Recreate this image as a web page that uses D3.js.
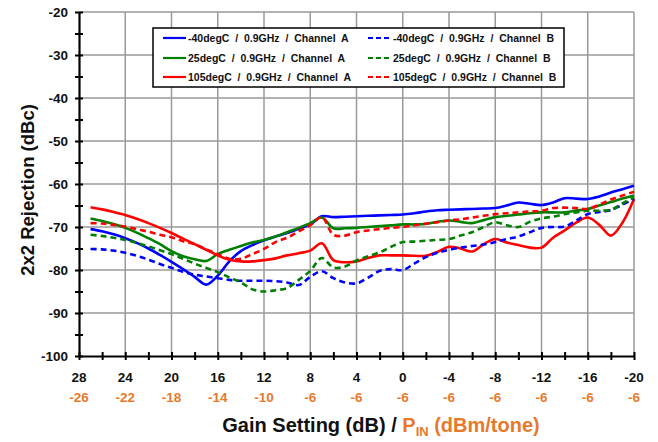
<!DOCTYPE html>
<html>
<head>
<meta charset="utf-8">
<script src="https://cdn.jsdelivr.net/npm/d3@7"></script>
<style>
  html, body { margin: 0; padding: 0; background: #fff; }
  svg { display: block; font-family: Arial, "Liberation Sans", sans-serif; }
  .pre { white-space: pre; }
</style>
</head>
<body>
<svg id="chart" width="658" height="442"></svg>
<script>
// Gain settings (dB), one sample per dB step
const gain = d3.range(27, -21, -1);

// Tick labels along the x axis
const gainTicks = [28, 24, 20, 16, 12, 8, 4, 0, -4, -8, -12, -16, -20];
const pinLabels = ["-26", "-22", "-18", "-14", "-10", "-6", "-6", "-6", "-6", "-6", "-6", "-6", "-6"];
const yTicks = [-20, -30, -40, -50, -60, -70, -80, -90, -100];

// 2x2 rejection (dBc) per series
const m40A = [-70.5,-71.0,-71.7,-72.6,-73.7,-75.0,-76.5,-78.1,-79.8,-81.6,-83.4,-81.3,-78.0,-75.6,-74.2,-73.1,-72.2,-71.4,-70.4,-69.4,-67.5,-67.7,-67.6,-67.5,-67.4,-67.3,-67.2,-67.1,-66.8,-66.4,-66.1,-66.0,-65.9,-65.8,-65.7,-65.6,-65.0,-64.3,-64.6,-64.9,-64.3,-63.3,-63.4,-63.5,-62.9,-62.0,-61.2,-60.4];
const p25A = [-68.0,-68.6,-69.3,-70.2,-71.3,-72.6,-74.0,-75.6,-76.8,-77.5,-77.9,-76.3,-75.3,-74.4,-73.6,-73.0,-72.2,-71.2,-70.2,-69.1,-67.8,-70.3,-70.3,-70.2,-70.0,-69.8,-69.6,-69.4,-69.4,-69.3,-68.8,-68.5,-68.8,-69.1,-68.4,-67.7,-67.4,-67.1,-66.8,-66.6,-66.6,-66.6,-66.2,-65.8,-65.0,-64.2,-63.4,-62.7];
const p105A = [-65.4,-65.9,-66.5,-67.2,-68.1,-69.1,-70.2,-71.4,-72.7,-74.0,-75.3,-76.6,-77.6,-78.0,-78.0,-77.7,-77.3,-76.6,-76.1,-75.5,-73.8,-77.7,-78.2,-78.0,-77.2,-76.6,-76.6,-76.6,-76.7,-76.7,-75.8,-74.6,-75.0,-75.7,-74.0,-72.8,-73.6,-74.2,-74.8,-74.8,-72.5,-70.8,-69.0,-67.8,-69.5,-72.0,-69.0,-63.5];
const m40B = [-75.1,-75.2,-75.5,-76.0,-76.7,-77.6,-78.6,-79.5,-80.4,-81.1,-81.5,-81.9,-82.3,-82.5,-82.5,-82.5,-82.6,-82.9,-83.5,-81.6,-80.3,-81.9,-82.9,-83.1,-81.8,-80.2,-79.8,-80.0,-78.5,-77.0,-76.0,-75.3,-74.8,-74.4,-74.1,-73.5,-72.8,-72.2,-71.2,-70.2,-70.0,-69.9,-68.5,-67.0,-66.5,-66.1,-64.8,-63.5];
const p25B = [-71.8,-72.1,-72.5,-73.0,-73.7,-74.5,-75.4,-76.3,-77.4,-78.5,-79.5,-80.5,-81.7,-82.9,-84.5,-85.0,-84.7,-84.2,-82.3,-80.2,-77.2,-79.4,-79.2,-77.8,-76.8,-75.9,-74.6,-73.5,-73.4,-73.2,-73.0,-72.8,-72.0,-71.2,-70.0,-68.9,-69.6,-70.0,-68.8,-68.0,-67.6,-67.0,-66.6,-66.2,-66.2,-66.0,-64.5,-63.1];
const p105B = [-69.1,-69.2,-69.5,-69.9,-70.5,-71.1,-71.8,-72.4,-73.3,-74.0,-75.2,-76.3,-77.4,-77.4,-76.3,-75.1,-73.5,-72.5,-71.0,-69.6,-67.7,-71.8,-72.0,-71.2,-70.8,-70.5,-70.2,-70.0,-69.6,-69.2,-68.9,-68.5,-68.2,-67.8,-67.4,-67.0,-66.8,-66.6,-66.4,-66.2,-65.6,-65.5,-65.6,-65.8,-64.8,-63.6,-62.7,-61.8];

const seriesNames = [
  "-40degC  /  0.9GHz  /  Channel  A",
  "25degC  /  0.9GHz  /  Channel  A",
  "105degC  /  0.9GHz  /  Channel  A",
  "-40degC  /  0.9GHz  /  Channel  B",
  "25degC  /  0.9GHz  /  Channel  B",
  "105degC  /  0.9GHz  /  Channel  B"
];
const seriesValues = [m40A, p25A, p105A, m40B, p25B, p105B];
const seriesColors = ["#0000ff", "#008000", "#ff0000", "#0000ff", "#008000", "#ff0000"];
const seriesDashed = [false, false, false, true, true, true];

const orange = "#e8792a";
const svg = d3.select("#chart");

const x = d3.scaleLinear().domain([28, -20]).range([79, 634]);
const y = d3.scaleLinear().domain([-100, -20]).range([356, 12]);

// Grid
const grid = svg.append("g");
grid.selectAll("line.v").data(gainTicks.slice(1)).join("line")
  .attr("x1", d => x(d)).attr("x2", d => x(d))
  .attr("y1", y(-20)).attr("y2", y(-100))
  .attr("stroke", "#9a9a9a").attr("stroke-width", 1.5);
grid.selectAll("line.h").data(yTicks.slice(0, -1)).join("line")
  .attr("x1", x(28)).attr("x2", x(-20))
  .attr("y1", d => y(d)).attr("y2", d => y(d))
  .attr("stroke", "#9a9a9a").attr("stroke-width", 1.5);

// Series lines
const line = d3.line()
  .x((d, i) => x(gain[i]))
  .y(d => y(d))
  .curve(d3.curveCatmullRom.alpha(0.5));

svg.append("g").selectAll("path").data(seriesValues).join("path")
  .attr("d", d => line(d))
  .attr("fill", "none")
  .attr("stroke", (d, i) => seriesColors[i])
  .attr("stroke-width", 2.6)
  .attr("stroke-dasharray", (d, i) => seriesDashed[i] ? "6,4" : null)
  .attr("stroke-linejoin", "round");

// Axes
const yAxis = d3.axisLeft(y).tickValues(d3.range(-100, -19, 5)).tickSize(0).tickFormat("");
const yg = svg.append("g").attr("transform", `translate(${x(28)},0)`).call(yAxis);
yg.select(".domain").attr("stroke", "#000").attr("stroke-width", 2.2);
yg.selectAll(".tick").append("line")
  .attr("x1", -4).attr("x2", 4).attr("stroke", "#000").attr("stroke-width", 2);

svg.append("g").selectAll("text").data(yTicks).join("text")
  .attr("x", 68).attr("y", d => y(d)).attr("dy", "0.36em")
  .attr("text-anchor", "end")
  .attr("font-size", 13.5).attr("font-weight", "bold").attr("fill", "#111")
  .text(d => d);

const xAxis = d3.axisBottom(x).tickValues(d3.range(28, -21, -2)).tickSize(0).tickFormat("");
const xg = svg.append("g").attr("transform", `translate(0,${y(-100)})`).call(xAxis);
xg.select(".domain").attr("stroke", "#000").attr("stroke-width", 2.2);
xg.selectAll(".tick").append("line")
  .attr("y1", -4).attr("y2", 4).attr("stroke", "#000").attr("stroke-width", 2);

svg.append("g").selectAll("text").data(gainTicks).join("text")
  .attr("x", d => x(d)).attr("y", 382)
  .attr("text-anchor", "middle")
  .attr("font-size", 13.5).attr("font-weight", "bold").attr("fill", "#111")
  .text(d => d);

svg.append("g").selectAll("text").data(pinLabels).join("text")
  .attr("x", (d, i) => x(gainTicks[i])).attr("y", 402)
  .attr("text-anchor", "middle")
  .attr("font-size", 13.5).attr("font-weight", "bold").attr("fill", orange)
  .text(d => d);

// Axis titles
svg.append("text")
  .attr("transform", "translate(34,190) rotate(-90)")
  .attr("text-anchor", "middle")
  .attr("font-size", 18.5).attr("font-weight", "bold").attr("fill", "#111")
  .text("2x2 Rejection (dBc)");

const xt = svg.append("text")
  .attr("x", 381).attr("y", 432)
  .attr("text-anchor", "middle")
  .attr("font-size", 20).attr("font-weight", "bold").attr("fill", "#111")
  .attr("class", "pre");
xt.append("tspan").text("Gain Setting (dB) / ");
xt.append("tspan").attr("fill", orange).text("P");
xt.append("tspan").attr("fill", orange).attr("font-size", 13).attr("dy", 4).text("IN");
xt.append("tspan").attr("fill", orange).attr("dy", -4).text(" (dBm/tone)");

// Legend
const lg = svg.append("g");
lg.append("rect").attr("x", 153).attr("y", 28).attr("width", 411).attr("height", 59)
  .attr("fill", "#fff").attr("stroke", "#000").attr("stroke-width", 1.5);
const colX = [163, 368];
const rowY = [38, 58, 77];
seriesNames.forEach((name, i) => {
  const cx = colX[Math.floor(i / 3)], cy = rowY[i % 3];
  lg.append("line").attr("x1", cx).attr("x2", cx + 23).attr("y1", cy).attr("y2", cy)
    .attr("stroke", seriesColors[i]).attr("stroke-width", 2.2)
    .attr("stroke-dasharray", seriesDashed[i] ? "5,3" : null);
  lg.append("text").attr("class", "pre")
    .attr("x", cx + 25).attr("y", cy).attr("dy", "0.36em")
    .attr("font-size", 10.5).attr("font-weight", "bold").attr("fill", "#111")
    .text(name);
});
</script>
</body>
</html>
